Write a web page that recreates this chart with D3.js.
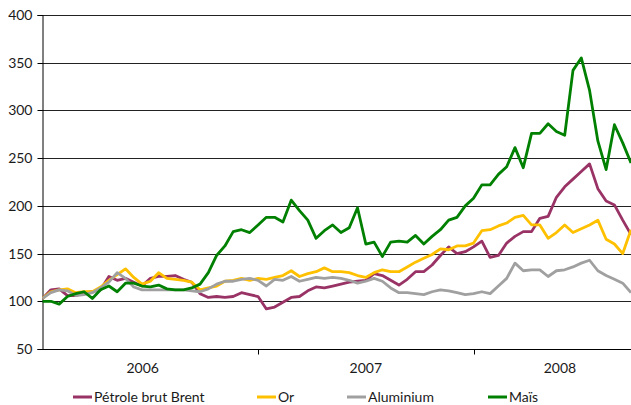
<!DOCTYPE html>
<html>
<head>
<meta charset="utf-8">
<script src="https://cdn.jsdelivr.net/npm/d3@7"></script>
<style>
  body { margin: 0; background: #fff; }
  svg text { font-family: Lato, "Open Sans", sans-serif; fill: #1a1a1a; }
</style>
</head>
<body>
<div id="chart"></div>
<script>
// biweekly readings, starting 2 Jan 2006
const startDate = new Date(2006, 0, 2);
const stepDays = 14;

const brent = [103, 112, 113, 106, 106, 109, 110, 112, 126, 122, 124, 120, 116, 124, 126, 126, 127, 123, 120, 108,
  104, 105, 104, 105, 109, 107, 105, 92, 94, 99, 104, 105, 111, 115, 114, 116, 118, 120, 121, 122,
  129, 127, 122, 117, 123, 131, 131, 138, 148, 157, 150, 152, 157, 163, 146, 148, 161, 168, 173, 173,
  187, 189, 209, 220, 228, 236, 244, 218, 205, 201, 185, 170];
const gold = [103, 110, 112, 113, 109, 110, 110, 115, 122, 128, 134, 125, 118, 121, 130, 124, 123, 122, 120, 112,
  114, 116, 121, 122, 124, 122, 124, 123, 125, 127, 132, 126, 129, 131, 135, 131, 131, 130, 127, 125,
  130, 133, 131, 131, 136, 141, 145, 149, 155, 154, 158, 158, 161, 174, 175, 179, 182, 188, 190, 180,
  180, 166, 172, 180, 172, 176, 180, 185, 165, 160, 150, 175];
const aluminium = [103, 109, 112, 111, 106, 107, 109, 114, 120, 130, 124, 115, 112, 112, 112, 112, 112, 112, 111, 110,
  113, 118, 121, 121, 123, 124, 122, 116, 123, 122, 126, 121, 123, 125, 124, 125, 124, 122, 119, 121,
  124, 121, 114, 109, 109, 108, 107, 110, 112, 111, 109, 107, 108, 110, 108, 116, 124, 140, 132, 133,
  133, 126, 132, 133, 136, 140, 143, 132, 127, 123, 119, 109];
const mais = [100, 100, 97, 105, 108, 110, 103, 112, 116, 110, 119, 119, 116, 115, 117, 113, 112, 112, 114, 118,
  130, 148, 158, 173, 175, 172, 180, 188, 188, 183, 206, 195, 185, 166, 174, 180, 172, 177, 198, 160,
  162, 147, 162, 163, 162, 169, 160, 168, 175, 185, 188, 200, 208, 222, 222, 233, 241, 261, 240, 276,
  276, 286, 278, 274, 342, 355, 321, 268, 238, 285, 266, 245];

const seriesNames = ["Pétrole brut Brent", "Or", "Aluminium", "Maïs"];
const seriesValues = [brent, gold, aluminium, mais];
const seriesColors = ["#993366", "#ffc000", "#a0a0a0", "#008000"];

const yTicks = [50, 100, 150, 200, 250, 300, 350, 400];
const yearTicks = ["2007-01-01", "2008-01-01"];
const yearLabels = [["2006", "2006-06-20"], ["2007", "2007-07-02"], ["2008", "2008-05-25"]];

const width = 631, height = 405;
const margin = { left: 42, right: 0, top: 15, bottom: 56 };

const dates = brent.map((d, i) => d3.timeDay.offset(startDate, i * stepDays));

const svg = d3.select("#chart").append("svg")
  .attr("width", width)
  .attr("height", height);

const x = d3.scaleTime()
  .domain([new Date(2006, 0, 1), new Date(2008, 8, 22)])
  .range([margin.left, width - margin.right]);
const y = d3.scaleLinear()
  .domain([50, 400])
  .range([height - margin.bottom, margin.top]);

// gridlines
svg.append("g")
  .selectAll("line")
  .data(yTicks.slice(1))
  .enter().append("line")
  .attr("x1", margin.left)
  .attr("x2", width)
  .attr("y1", d => Math.round(y(d)) + 0.5)
  .attr("y2", d => Math.round(y(d)) + 0.5)
  .attr("stroke", "#222")
  .attr("stroke-width", 1);

// left axis
const yAxis = svg.append("g")
  .attr("transform", `translate(${margin.left + 0.5},0)`)
  .call(d3.axisLeft(y).tickValues(yTicks).tickSize(5).tickPadding(5));
yAxis.select(".domain").attr("stroke", "#000");
yAxis.selectAll(".tick line").attr("stroke", "#000");
yAxis.selectAll("text").attr("font-size", 14).attr("fill", "#1a1a1a");
yAxis.selectAll(".tick").attr("transform", d => `translate(0,${Math.round(y(d)) + 0.5})`);

// bottom axis
const baseY = Math.round(y(50)) + 0.5;
svg.append("line")
  .attr("x1", margin.left)
  .attr("x2", width)
  .attr("y1", baseY)
  .attr("y2", baseY)
  .attr("stroke", "#000");
svg.append("g")
  .selectAll("line")
  .data(yearTicks)
  .enter().append("line")
  .attr("x1", d => Math.round(x(new Date(d))) + 0.5)
  .attr("x2", d => Math.round(x(new Date(d))) + 0.5)
  .attr("y1", baseY)
  .attr("y2", baseY + 5)
  .attr("stroke", "#000");
svg.append("g")
  .selectAll("text")
  .data(yearLabels)
  .enter().append("text")
  .attr("x", d => x(new Date(d[1])))
  .attr("y", baseY + 23)
  .attr("text-anchor", "middle")
  .attr("font-size", 14)
  .text(d => d[0]);

// series lines
const line = d3.line()
  .x((d, i) => x(dates[i]))
  .y(d => y(d));

svg.append("clipPath").attr("id", "plot-clip")
  .append("rect")
  .attr("x", margin.left).attr("y", 0)
  .attr("width", width - margin.left).attr("height", height);

svg.append("g")
  .attr("clip-path", "url(#plot-clip)")
  .selectAll("path")
  .data(seriesValues)
  .enter().append("path")
  .attr("d", d => line(d))
  .attr("fill", "none")
  .attr("stroke", (d, i) => seriesColors[i])
  .attr("stroke-width", 2.8)
  .attr("stroke-linejoin", "round");

// legend
const legendX = [73, 257, 347, 488];
const legend = svg.append("g")
  .selectAll("g")
  .data(seriesNames)
  .enter().append("g")
  .attr("transform", (d, i) => `translate(${legendX[i]},397)`);
legend.append("line")
  .attr("x1", 0).attr("x2", 19)
  .attr("y1", 0).attr("y2", 0)
  .attr("stroke", (d, i) => seriesColors[i])
  .attr("stroke-width", 3);
legend.append("text")
  .attr("x", 21)
  .attr("y", 5)
  .attr("font-size", 14)
  .text(d => d);
</script>
</body>
</html>
